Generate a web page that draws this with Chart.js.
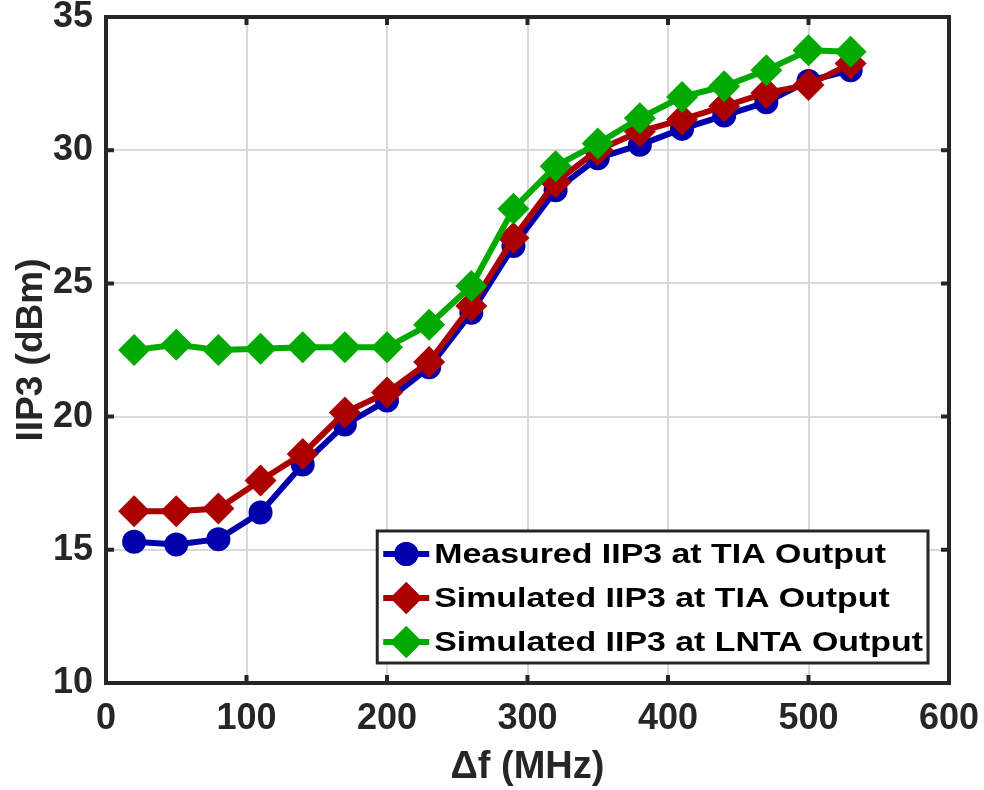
<!DOCTYPE html>
<html>
<head>
<meta charset="utf-8">
<script src="https://cdn.jsdelivr.net/npm/chart.js@4.4.1/dist/chart.umd.min.js"></script>
<style>
  html, body { margin: 0; padding: 0; background: #fff; }
  #wrap { width: 984px; height: 790px; }
</style>
</head>
<body>
<div id="wrap"><canvas id="chart" width="984" height="790"></canvas></div>
<script>
// frequency offset (MHz)
const freqMHz = [20, 50, 80, 110, 140, 170, 200, 230, 260, 290, 320, 350, 380, 410, 440, 470, 500, 530];

// IIP3 (dBm)
const measuredTIA   = [15.3, 15.2, 15.4, 16.4, 18.2, 19.7, 20.6, 21.85, 23.9, 26.4, 28.5, 29.7, 30.2, 30.8, 31.3, 31.8, 32.6, 33.0];
const simulatedTIA  = [16.45, 16.45, 16.55, 17.6, 18.6, 20.15, 20.9, 22.05, 24.15, 26.7, 28.8, 30.0, 30.7, 31.15, 31.65, 32.15, 32.45, 33.25];
const simulatedLNTA = [22.5, 22.7, 22.5, 22.55, 22.6, 22.6, 22.6, 23.45, 24.9, 27.8, 29.4, 30.25, 31.2, 32.0, 32.4, 33.0, 33.75, 33.7];

const seriesNames = [
  'Measured IIP3 at TIA Output',
  'Simulated IIP3 at TIA Output',
  'Simulated IIP3 at LNTA Output'
];

const xTicks = [0, 100, 200, 300, 400, 500, 600];
const yTicks = [10, 15, 20, 25, 30, 35];

const INK = '#262626';
const FONT = "'Liberation Sans', Arial, Helvetica, sans-serif";

function pairs(ys) {
  return freqMHz.map((x, i) => ({ x: x, y: ys[i] }));
}

// axes box with inward ticks, like matlab
const frameBox = {
  id: 'frameBox',
  afterDatasetsDraw(chart) {
    const ctx = chart.ctx;
    const a = chart.chartArea;
    const xs = chart.scales.x, ys = chart.scales.y;
    const len = 8;
    ctx.save();
    ctx.strokeStyle = INK;
    ctx.lineWidth = 4;
    ctx.lineCap = 'butt';
    xTicks.forEach(v => {
      const px = xs.getPixelForValue(v);
      ctx.beginPath();
      ctx.moveTo(px, a.bottom); ctx.lineTo(px, a.bottom - len);
      ctx.moveTo(px, a.top); ctx.lineTo(px, a.top + len);
      ctx.stroke();
    });
    yTicks.forEach(v => {
      const py = ys.getPixelForValue(v);
      ctx.beginPath();
      ctx.moveTo(a.left, py); ctx.lineTo(a.left + len, py);
      ctx.moveTo(a.right, py); ctx.lineTo(a.right - len, py);
      ctx.stroke();
    });
    ctx.strokeRect(a.left, a.top, a.right - a.left, a.bottom - a.top);
    ctx.restore();
  }
};

// legend box in the lower right corner of the axes
const boxLegend = {
  id: 'boxLegend',
  afterDraw(chart) {
    const ctx = chart.ctx;
    const a = chart.chartArea;
    const sets = chart.data.datasets;
    const stretch = 1.21;
    ctx.save();
    ctx.font = 'bold 28px ' + FONT;
    let maxW = 0;
    seriesNames.forEach(n => { maxW = Math.max(maxW, ctx.measureText(n).width * stretch); });
    const rowH = 44, padL = 6, sampleW = 46, gap = 5, padR = 5;
    const w = padL + sampleW + gap + maxW + padR;
    const h = rowH * seriesNames.length;
    const right = a.right - 21, bottom = a.bottom - 20;
    const left = right - w, top = bottom - h;
    ctx.fillStyle = '#fff';
    ctx.fillRect(left, top, w, h);
    ctx.strokeStyle = INK;
    ctx.lineWidth = 3;
    ctx.strokeRect(left, top, w, h);
    seriesNames.forEach((n, i) => {
      const ds = sets[i];
      const cy = top + 23 + i * rowH;
      const x0 = left + padL;
      ctx.strokeStyle = ds.borderColor;
      ctx.lineWidth = 6;
      ctx.beginPath();
      ctx.moveTo(x0, cy); ctx.lineTo(x0 + sampleW, cy);
      ctx.stroke();
      ctx.fillStyle = ds.borderColor;
      Chart.helpers.drawPoint(ctx, { pointStyle: ds.pointStyle, radius: ds.pointRadius, borderWidth: 0 }, x0 + sampleW / 2, cy);
      ctx.fill();
      ctx.save();
      ctx.translate(x0 + sampleW + gap, cy + 1);
      ctx.scale(stretch, 1);
      ctx.fillStyle = '#000';
      ctx.textBaseline = 'middle';
      ctx.textAlign = 'left';
      ctx.fillText(n, 0, 0);
      ctx.restore();
    });
    ctx.restore();
  }
};

const colors = ['#0000aa', '#aa0000', '#00aa00'];

new Chart(document.getElementById('chart'), {
  type: 'line',
  data: {
    datasets: [
      { label: seriesNames[0], data: pairs(measuredTIA), borderColor: colors[0], backgroundColor: colors[0],
        pointStyle: 'circle', pointRadius: 12, order: 2 },
      { label: seriesNames[1], data: pairs(simulatedTIA), borderColor: colors[1], backgroundColor: colors[1],
        pointStyle: 'rectRot', pointRadius: 16, order: 1 },
      { label: seriesNames[2], data: pairs(simulatedLNTA), borderColor: colors[2], backgroundColor: colors[2],
        pointStyle: 'rectRot', pointRadius: 16, order: 0 }
    ].map(d => Object.assign(d, { borderWidth: 6, pointBorderWidth: 0, pointHoverRadius: d.pointRadius, tension: 0, fill: false }))
  },
  options: {
    responsive: false,
    devicePixelRatio: 1,
    animation: false,
    layout: { padding: { top: 17, right: 35, left: 0, bottom: 0 } },
    plugins: { legend: { display: false }, tooltip: { enabled: false } },
    scales: {
      x: {
        type: 'linear', min: 0, max: 600,
        afterBuildTicks: s => { s.ticks = xTicks.map(v => ({ value: v })); },
        afterFit: s => { s.height = 107; s.paddingLeft = 0; s.paddingRight = 0; },
        border: { display: false },
        grid: { color: '#d9d9d9', lineWidth: 2, drawTicks: false },
        ticks: { color: INK, padding: 14, font: { family: FONT, size: 36, weight: 'bold' } },
        title: { display: true, text: 'Δf (MHz)', color: INK, padding: { top: 0, bottom: 0 },
                 font: { family: FONT, size: 38, weight: 'bold' } }
      },
      y: {
        type: 'linear', min: 10, max: 35,
        afterBuildTicks: s => { s.ticks = yTicks.map(v => ({ value: v })); },
        afterFit: s => { s.width = 106; s.paddingTop = 0; s.paddingBottom = 0; },
        border: { display: false },
        grid: { color: '#d9d9d9', lineWidth: 2, drawTicks: false },
        ticks: { color: INK, padding: 13, font: { family: FONT, size: 36, weight: 'bold' } },
        title: { display: true, text: 'IIP3 (dBm)', color: INK, padding: { top: 10, bottom: 0 },
                 font: { family: FONT, size: 37, weight: 'bold' } }
      }
    }
  },
  plugins: [frameBox, boxLegend]
});
</script>
</body>
</html>
